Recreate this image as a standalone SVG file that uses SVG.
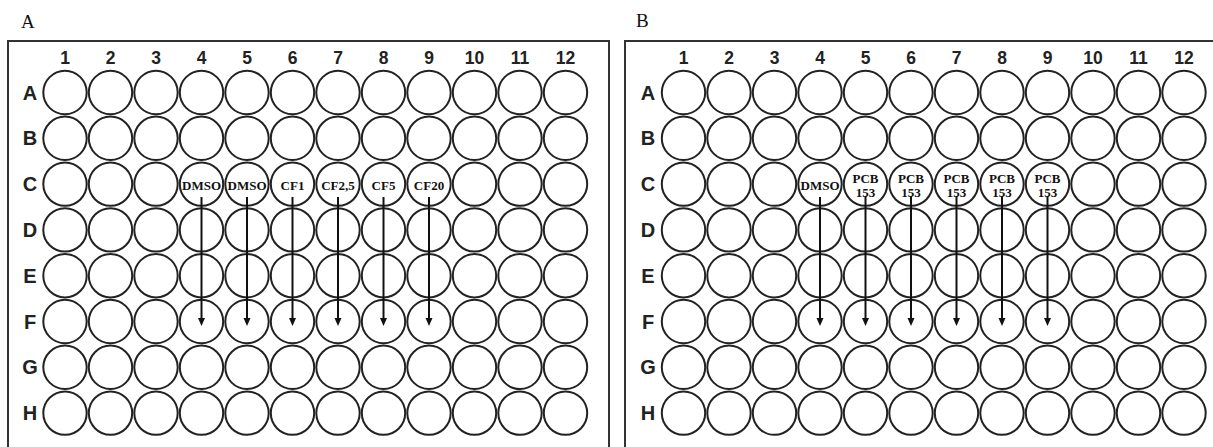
<svg xmlns="http://www.w3.org/2000/svg" xmlns:xlink="http://www.w3.org/1999/xlink" width="1213" height="447" viewBox="0 0 1213 447">
<style>
.frame{fill:none;stroke:#333;stroke-width:2}
.well{fill:#fff;stroke:#222;stroke-width:2}
.pl{font-family:"Liberation Serif",serif;font-size:19px;fill:#111}
.num{font-family:"Liberation Sans",Arial,sans-serif;font-weight:bold;font-size:17.5px;fill:#222;text-anchor:middle}
.row{font-family:"Liberation Sans",Arial,sans-serif;font-weight:bold;font-size:20px;fill:#222;text-anchor:middle}
.lab{font-family:"Liberation Serif",serif;font-weight:bold;font-size:13px;fill:#111;text-anchor:middle}
.arr{stroke:#111;stroke-width:2;fill:none}
</style>
<defs>
<circle id="w" r="21.7" class="well"/>
<marker id="ah" markerUnits="userSpaceOnUse" markerWidth="9" markerHeight="8" refX="2" refY="3.5" orient="auto"><path d="M0,0 L8,3.5 L0,7 z" fill="#111"/></marker>
</defs>
<text class="pl" x="21" y="28">A</text>
<text class="pl" x="636" y="27">B</text>
<g id="plateA">
<rect class="frame" x="8" y="41" width="601" height="420"/>
<g id="colsA">
<text class="num" x="65" y="64">1</text><text class="num" x="110.5" y="64">2</text><text class="num" x="156" y="64">3</text><text class="num" x="201.5" y="64">4</text><text class="num" x="247" y="64">5</text><text class="num" x="292.5" y="64">6</text><text class="num" x="338" y="64">7</text><text class="num" x="383.5" y="64">8</text><text class="num" x="429" y="64">9</text><text class="num" x="474.5" y="64">10</text><text class="num" x="520" y="64">11</text><text class="num" x="565.5" y="64">12</text>
</g>
<g id="rowsA">
<text class="row" x="30" y="99.5">A</text><text class="row" x="30" y="145.3">B</text><text class="row" x="30" y="191.1">C</text><text class="row" x="30" y="236.9">D</text><text class="row" x="30" y="282.7">E</text><text class="row" x="30" y="328.5">F</text><text class="row" x="30" y="374.3">G</text><text class="row" x="30" y="420.1">H</text>
</g>
<g id="wellsA">
<g id="A-rowA"><use href="#w" x="65" y="92.5"/><use href="#w" x="110.5" y="92.5"/><use href="#w" x="156" y="92.5"/><use href="#w" x="201.5" y="92.5"/><use href="#w" x="247" y="92.5"/><use href="#w" x="292.5" y="92.5"/><use href="#w" x="338" y="92.5"/><use href="#w" x="383.5" y="92.5"/><use href="#w" x="429" y="92.5"/><use href="#w" x="474.5" y="92.5"/><use href="#w" x="520" y="92.5"/><use href="#w" x="565.5" y="92.5"/></g>
<g id="A-rowB"><use href="#w" x="65" y="138.3"/><use href="#w" x="110.5" y="138.3"/><use href="#w" x="156" y="138.3"/><use href="#w" x="201.5" y="138.3"/><use href="#w" x="247" y="138.3"/><use href="#w" x="292.5" y="138.3"/><use href="#w" x="338" y="138.3"/><use href="#w" x="383.5" y="138.3"/><use href="#w" x="429" y="138.3"/><use href="#w" x="474.5" y="138.3"/><use href="#w" x="520" y="138.3"/><use href="#w" x="565.5" y="138.3"/></g>
<g id="A-rowC"><use href="#w" x="65" y="184.1"/><use href="#w" x="110.5" y="184.1"/><use href="#w" x="156" y="184.1"/><use href="#w" x="474.5" y="184.1"/><use href="#w" x="520" y="184.1"/><use href="#w" x="565.5" y="184.1"/></g>
<g id="A-rowD"><use href="#w" x="65" y="229.9"/><use href="#w" x="110.5" y="229.9"/><use href="#w" x="156" y="229.9"/><use href="#w" x="201.5" y="229.9"/><use href="#w" x="247" y="229.9"/><use href="#w" x="292.5" y="229.9"/><use href="#w" x="338" y="229.9"/><use href="#w" x="383.5" y="229.9"/><use href="#w" x="429" y="229.9"/><use href="#w" x="474.5" y="229.9"/><use href="#w" x="520" y="229.9"/><use href="#w" x="565.5" y="229.9"/></g>
<g id="A-rowE"><use href="#w" x="65" y="275.7"/><use href="#w" x="110.5" y="275.7"/><use href="#w" x="156" y="275.7"/><use href="#w" x="201.5" y="275.7"/><use href="#w" x="247" y="275.7"/><use href="#w" x="292.5" y="275.7"/><use href="#w" x="338" y="275.7"/><use href="#w" x="383.5" y="275.7"/><use href="#w" x="429" y="275.7"/><use href="#w" x="474.5" y="275.7"/><use href="#w" x="520" y="275.7"/><use href="#w" x="565.5" y="275.7"/></g>
<g id="A-rowF"><use href="#w" x="65" y="321.5"/><use href="#w" x="110.5" y="321.5"/><use href="#w" x="156" y="321.5"/><use href="#w" x="201.5" y="321.5"/><use href="#w" x="247" y="321.5"/><use href="#w" x="292.5" y="321.5"/><use href="#w" x="338" y="321.5"/><use href="#w" x="383.5" y="321.5"/><use href="#w" x="429" y="321.5"/><use href="#w" x="474.5" y="321.5"/><use href="#w" x="520" y="321.5"/><use href="#w" x="565.5" y="321.5"/></g>
<g id="A-rowG"><use href="#w" x="65" y="367.3"/><use href="#w" x="110.5" y="367.3"/><use href="#w" x="156" y="367.3"/><use href="#w" x="201.5" y="367.3"/><use href="#w" x="247" y="367.3"/><use href="#w" x="292.5" y="367.3"/><use href="#w" x="338" y="367.3"/><use href="#w" x="383.5" y="367.3"/><use href="#w" x="429" y="367.3"/><use href="#w" x="474.5" y="367.3"/><use href="#w" x="520" y="367.3"/><use href="#w" x="565.5" y="367.3"/></g>
<g id="A-rowH"><use href="#w" x="65" y="413.1"/><use href="#w" x="110.5" y="413.1"/><use href="#w" x="156" y="413.1"/><use href="#w" x="201.5" y="413.1"/><use href="#w" x="247" y="413.1"/><use href="#w" x="292.5" y="413.1"/><use href="#w" x="338" y="413.1"/><use href="#w" x="383.5" y="413.1"/><use href="#w" x="429" y="413.1"/><use href="#w" x="474.5" y="413.1"/><use href="#w" x="520" y="413.1"/><use href="#w" x="565.5" y="413.1"/></g>
</g>
<g id="A-C4"><use href="#w" x="201.5" y="184.1"/><text class="lab" x="201.5" y="190">DMSO</text></g>
<g id="A-C5"><use href="#w" x="247" y="184.1"/><text class="lab" x="247" y="190">DMSO</text></g>
<g id="A-C6"><use href="#w" x="292.5" y="184.1"/><text class="lab" x="292.5" y="190">CF1</text></g>
<g id="A-C7"><use href="#w" x="338" y="184.1"/><text class="lab" x="338" y="190">CF2,5</text></g>
<g id="A-C8"><use href="#w" x="383.5" y="184.1"/><text class="lab" x="383.5" y="190">CF5</text></g>
<g id="A-C9"><use href="#w" x="429" y="184.1"/><text class="lab" x="429" y="190">CF20</text></g>
</g>
<g id="plateB">
<rect class="frame" x="625" y="41" width="600" height="420"/>
<g id="colsB">
<text class="num" x="683.5" y="64">1</text><text class="num" x="729" y="64">2</text><text class="num" x="774.5" y="64">3</text><text class="num" x="820" y="64">4</text><text class="num" x="865.5" y="64">5</text><text class="num" x="911" y="64">6</text><text class="num" x="956.5" y="64">7</text><text class="num" x="1002" y="64">8</text><text class="num" x="1047.5" y="64">9</text><text class="num" x="1093" y="64">10</text><text class="num" x="1138.5" y="64">11</text><text class="num" x="1184" y="64">12</text>
</g>
<g id="rowsB">
<text class="row" x="648" y="99.5">A</text><text class="row" x="648" y="145.3">B</text><text class="row" x="648" y="191.1">C</text><text class="row" x="648" y="236.9">D</text><text class="row" x="648" y="282.7">E</text><text class="row" x="648" y="328.5">F</text><text class="row" x="648" y="374.3">G</text><text class="row" x="648" y="420.1">H</text>
</g>
<g id="wellsB">
<g id="B-rowA"><use href="#w" x="683.5" y="92.5"/><use href="#w" x="729" y="92.5"/><use href="#w" x="774.5" y="92.5"/><use href="#w" x="820" y="92.5"/><use href="#w" x="865.5" y="92.5"/><use href="#w" x="911" y="92.5"/><use href="#w" x="956.5" y="92.5"/><use href="#w" x="1002" y="92.5"/><use href="#w" x="1047.5" y="92.5"/><use href="#w" x="1093" y="92.5"/><use href="#w" x="1138.5" y="92.5"/><use href="#w" x="1184" y="92.5"/></g>
<g id="B-rowB"><use href="#w" x="683.5" y="138.3"/><use href="#w" x="729" y="138.3"/><use href="#w" x="774.5" y="138.3"/><use href="#w" x="820" y="138.3"/><use href="#w" x="865.5" y="138.3"/><use href="#w" x="911" y="138.3"/><use href="#w" x="956.5" y="138.3"/><use href="#w" x="1002" y="138.3"/><use href="#w" x="1047.5" y="138.3"/><use href="#w" x="1093" y="138.3"/><use href="#w" x="1138.5" y="138.3"/><use href="#w" x="1184" y="138.3"/></g>
<g id="B-rowC"><use href="#w" x="683.5" y="184.1"/><use href="#w" x="729" y="184.1"/><use href="#w" x="774.5" y="184.1"/><use href="#w" x="1093" y="184.1"/><use href="#w" x="1138.5" y="184.1"/><use href="#w" x="1184" y="184.1"/></g>
<g id="B-rowD"><use href="#w" x="683.5" y="229.9"/><use href="#w" x="729" y="229.9"/><use href="#w" x="774.5" y="229.9"/><use href="#w" x="820" y="229.9"/><use href="#w" x="865.5" y="229.9"/><use href="#w" x="911" y="229.9"/><use href="#w" x="956.5" y="229.9"/><use href="#w" x="1002" y="229.9"/><use href="#w" x="1047.5" y="229.9"/><use href="#w" x="1093" y="229.9"/><use href="#w" x="1138.5" y="229.9"/><use href="#w" x="1184" y="229.9"/></g>
<g id="B-rowE"><use href="#w" x="683.5" y="275.7"/><use href="#w" x="729" y="275.7"/><use href="#w" x="774.5" y="275.7"/><use href="#w" x="820" y="275.7"/><use href="#w" x="865.5" y="275.7"/><use href="#w" x="911" y="275.7"/><use href="#w" x="956.5" y="275.7"/><use href="#w" x="1002" y="275.7"/><use href="#w" x="1047.5" y="275.7"/><use href="#w" x="1093" y="275.7"/><use href="#w" x="1138.5" y="275.7"/><use href="#w" x="1184" y="275.7"/></g>
<g id="B-rowF"><use href="#w" x="683.5" y="321.5"/><use href="#w" x="729" y="321.5"/><use href="#w" x="774.5" y="321.5"/><use href="#w" x="820" y="321.5"/><use href="#w" x="865.5" y="321.5"/><use href="#w" x="911" y="321.5"/><use href="#w" x="956.5" y="321.5"/><use href="#w" x="1002" y="321.5"/><use href="#w" x="1047.5" y="321.5"/><use href="#w" x="1093" y="321.5"/><use href="#w" x="1138.5" y="321.5"/><use href="#w" x="1184" y="321.5"/></g>
<g id="B-rowG"><use href="#w" x="683.5" y="367.3"/><use href="#w" x="729" y="367.3"/><use href="#w" x="774.5" y="367.3"/><use href="#w" x="820" y="367.3"/><use href="#w" x="865.5" y="367.3"/><use href="#w" x="911" y="367.3"/><use href="#w" x="956.5" y="367.3"/><use href="#w" x="1002" y="367.3"/><use href="#w" x="1047.5" y="367.3"/><use href="#w" x="1093" y="367.3"/><use href="#w" x="1138.5" y="367.3"/><use href="#w" x="1184" y="367.3"/></g>
<g id="B-rowH"><use href="#w" x="683.5" y="413.1"/><use href="#w" x="729" y="413.1"/><use href="#w" x="774.5" y="413.1"/><use href="#w" x="820" y="413.1"/><use href="#w" x="865.5" y="413.1"/><use href="#w" x="911" y="413.1"/><use href="#w" x="956.5" y="413.1"/><use href="#w" x="1002" y="413.1"/><use href="#w" x="1047.5" y="413.1"/><use href="#w" x="1093" y="413.1"/><use href="#w" x="1138.5" y="413.1"/><use href="#w" x="1184" y="413.1"/></g>
</g>
<g id="B-C4"><use href="#w" x="820" y="184.1"/><text class="lab" x="820" y="190">DMSO</text></g>
<g id="B-C5"><use href="#w" x="865.5" y="184.1"/><text class="lab" x="865.5" y="182.5">PCB</text><text class="lab" x="865.5" y="197">153</text></g>
<g id="B-C6"><use href="#w" x="911" y="184.1"/><text class="lab" x="911" y="182.5">PCB</text><text class="lab" x="911" y="197">153</text></g>
<g id="B-C7"><use href="#w" x="956.5" y="184.1"/><text class="lab" x="956.5" y="182.5">PCB</text><text class="lab" x="956.5" y="197">153</text></g>
<g id="B-C8"><use href="#w" x="1002" y="184.1"/><text class="lab" x="1002" y="182.5">PCB</text><text class="lab" x="1002" y="197">153</text></g>
<g id="B-C9"><use href="#w" x="1047.5" y="184.1"/><text class="lab" x="1047.5" y="182.5">PCB</text><text class="lab" x="1047.5" y="197">153</text></g>
</g>
<g id="connectors">
<line class="arr" x1="201.5" y1="197" x2="201.5" y2="320" marker-end="url(#ah)"/>
<line class="arr" x1="247" y1="197" x2="247" y2="320" marker-end="url(#ah)"/>
<line class="arr" x1="292.5" y1="197" x2="292.5" y2="320" marker-end="url(#ah)"/>
<line class="arr" x1="338" y1="197" x2="338" y2="320" marker-end="url(#ah)"/>
<line class="arr" x1="383.5" y1="197" x2="383.5" y2="320" marker-end="url(#ah)"/>
<line class="arr" x1="429" y1="197" x2="429" y2="320" marker-end="url(#ah)"/>
<line class="arr" x1="820" y1="197" x2="820" y2="320" marker-end="url(#ah)"/>
<line class="arr" x1="865.5" y1="196" x2="865.5" y2="320" marker-end="url(#ah)"/>
<line class="arr" x1="911" y1="196" x2="911" y2="320" marker-end="url(#ah)"/>
<line class="arr" x1="956.5" y1="196" x2="956.5" y2="320" marker-end="url(#ah)"/>
<line class="arr" x1="1002" y1="196" x2="1002" y2="320" marker-end="url(#ah)"/>
<line class="arr" x1="1047.5" y1="196" x2="1047.5" y2="320" marker-end="url(#ah)"/>
</g>
</svg>
